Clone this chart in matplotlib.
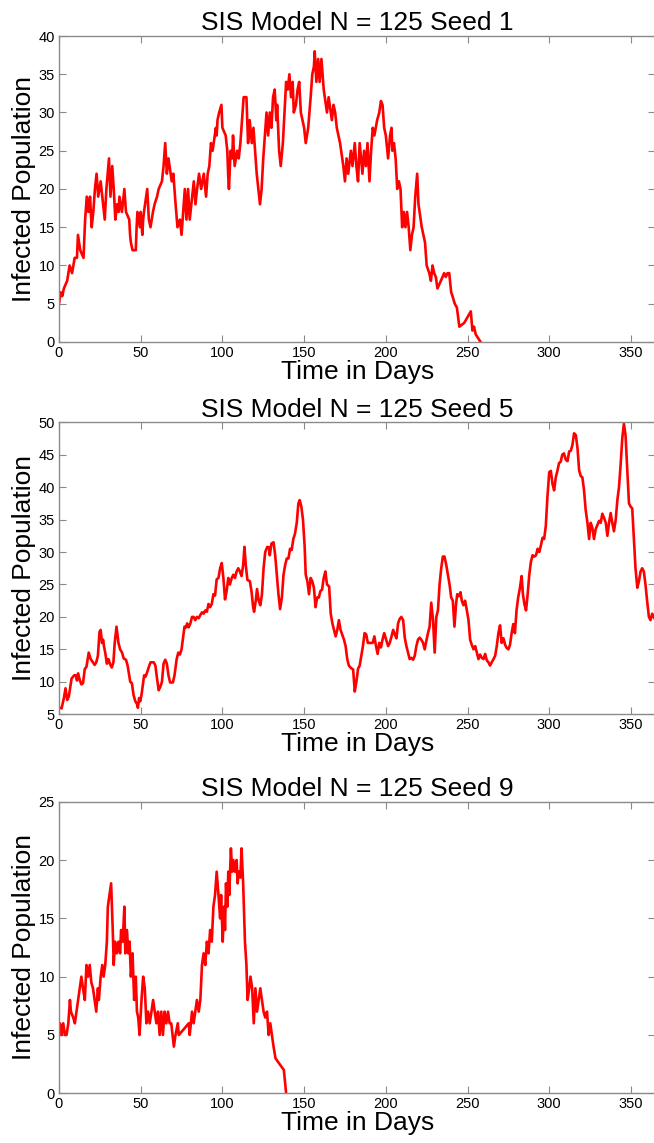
import matplotlib
matplotlib.use('Agg')
import matplotlib.pyplot as plt

plt.rcParams['font.family'] = ['Liberation Sans', 'DejaVu Sans']

# Seed 1
days_s1 = [0, 1, 2, 3, 5, 6.5, 8, 9.6, 11, 11.6, 13, 15, 16, 17, 18, 19, 20, 21, 22, 23,
           24, 25.5, 27, 28, 29, 30.6, 31.5, 32.6, 33.5, 34.5, 35.5, 36.5, 37, 38.5, 40, 41, 43, 43.5, 44, 45,
           47, 47.5, 48, 49.5, 50, 51, 51.5, 52, 54, 55, 56, 57.5, 58.5, 60, 61, 63, 64, 65, 66, 67,
           69, 70, 71, 72.5, 74, 75, 76, 77, 78, 79, 80, 81, 82.5, 83.5, 84.5, 85.7, 87, 88.6, 90, 91,
           92, 93, 94, 96, 96.5, 97, 98, 99.4, 100, 102, 103, 103.5, 104, 105, 106, 106.5, 107.5, 109, 110, 111,
           112, 113, 114.7, 115.7, 116.7, 118, 119, 120, 121, 123, 124, 125, 126, 127, 128, 129, 130, 131, 132, 133,
           133.5, 134.7, 135.7, 137, 138, 139, 140, 141, 142, 143, 143.7, 145, 146, 147, 148, 150, 151, 152.5, 154, 155,
           156, 156.5, 157.5, 158.6, 159.5, 160.6, 162, 164, 165, 167, 168, 169, 170, 172, 174, 175, 176, 177, 178.6, 179.6,
           181, 182, 183, 184, 185.7, 186.7, 187.8, 188.8, 190, 191, 192, 193, 194.7, 196, 197, 198, 199, 200, 201.4, 202.6,
           203.5, 204, 205, 206, 207, 208, 209, 210, 211, 212, 213, 214, 215, 216, 217, 218, 219.2, 220, 222, 224,
           225, 226.6, 227.6, 228.6, 229.6, 230.6, 231.6, 233.7, 235.7, 236.7, 237.8, 238.8, 240, 240.8, 242.2, 243.5, 245, 248, 252, 253,
           254, 255, 258]
vals_s1 = [5, 6.5, 6, 7, 8, 10, 9, 11, 11, 14, 12, 11, 16, 19, 17, 19, 15, 17, 20, 22,
           19, 21, 18, 16, 20, 24, 19, 23, 20, 16, 18, 17, 19, 17, 20, 17, 16, 14, 13, 12,
           12, 15, 17, 15, 17, 14, 16, 17, 20, 16, 15, 17, 18, 19, 20, 21, 23, 26, 22, 24,
           21, 22, 19, 15, 16, 14, 17, 20, 16, 20, 16, 18, 21, 18, 20, 22, 20, 22, 19, 22,
           23, 26, 25, 28, 27, 29, 30, 31, 28, 27, 25, 22, 20, 25, 24, 27, 23, 25, 24, 26,
           29, 32, 32, 26, 29, 26, 28, 25, 22, 18, 20, 24, 27, 30, 27, 30, 28, 32, 33, 29,
           31, 25, 23, 26, 30, 34, 33, 35, 32, 34, 30, 31, 33, 34, 30, 28, 26, 28, 32, 35,
           36, 38, 34, 37, 34, 37, 33, 30, 32, 29, 31, 30, 28, 26, 23, 21, 24, 22, 25, 23,
           26, 23, 21, 26, 22, 25, 23, 26, 21, 25, 28, 27, 29, 30, 31.5, 31, 28, 27, 24, 27,
           28, 25, 26, 24, 20, 21, 20, 15, 17, 15, 17, 15, 12, 14, 15, 19, 22, 18, 15, 13,
           10, 9, 8, 10, 9, 8.5, 7, 8, 9, 8.5, 9, 9, 6.5, 6, 5, 4.5, 2, 2.5, 4, 1.5,
           2, 1, 0]

# Seed 5
days_s5 = [0.5, 1.6, 3, 4, 5, 6, 7.7, 9.3, 10.3, 11, 11.7, 12.7, 13.7, 14.7, 15.8, 16.8, 18.2, 19.4, 20.8, 21.8,
           22.8, 23.8, 24.8, 25.5, 26.3, 27, 27.5, 28.3, 29.3, 30.3, 31.3, 32.3, 33.3, 34.1, 35.2, 36.4, 37.4, 38.6, 39.6, 41,
           42, 43, 43.6, 44.6, 45.6, 46.7, 47.7, 48.3, 49, 49.7, 50.5, 51.3, 52.1, 53, 54, 55, 56, 58, 59, 60,
           61, 62, 63, 64, 65, 66, 67, 68, 69.7, 70.7, 72, 73, 74, 75, 76, 76.8, 77.8, 78.4, 79.4, 80.4,
           81.4, 82.4, 83.4, 84.4, 85.5, 86.5, 87.5, 88.5, 89.5, 90.5, 91.5, 92.5, 93.5, 94.5, 95.5, 96.5, 97.6, 98.6, 99.6, 100.6,
           101.6, 102.6, 103.6, 104.6, 105.7, 106.7, 107.7, 108.7, 109.7, 110.7, 111.7, 112.7, 113.5, 114.3, 115.3, 116.8, 117.8, 118.8, 119.4, 120.4,
           121.2, 122.2, 123.2, 124.2, 125.2, 126.2, 127.5, 128.5, 129, 130, 131.3, 132.3, 133.3, 134.3, 135.3, 136.4, 137.4, 138.4, 139.4, 140.4,
           141.4, 142.4, 143.4, 144.4, 145.5, 146.5, 147.3, 148.3, 149.3, 150.3, 151, 152, 153, 154, 155, 156, 157, 158, 159, 160,
           161, 162, 163, 164, 165.3, 166.3, 167.3, 168.3, 169.3, 170.3, 171.3, 172.3, 173.3, 174.4, 175.4, 176.4, 177.4, 178.8, 180, 181,
           182, 183, 184, 185, 186, 187, 188, 189, 190, 192, 193, 194, 195, 196, 197, 198, 199, 200.4, 201.4, 202.4,
           203.5, 204.5, 205.5, 206.5, 207.5, 208.5, 209.5, 210.6, 211.6, 212.6, 213.6, 214.6, 215.6, 216.7, 217.7, 218.7, 219.7, 220.7, 221.7, 222.8,
           223.8, 224.8, 225.8, 226.8, 227.8, 228.9, 229.9, 230.9, 231.9, 232.9, 233.9, 234.9, 235.9, 237, 238, 239, 240, 241, 242, 243,
           243.7, 244.7, 245.7, 246.5, 247.5, 248.5, 249.6, 250.6, 251.6, 252.6, 253.7, 254.7, 255.7, 256.7, 257.7, 258.7, 259.8, 260.8, 261.8, 262.8,
           263.8, 264.8, 265.9, 266.9, 267.9, 268.9, 269.9, 270.9, 272, 273, 274, 275, 276, 277, 278, 279, 280, 281, 282.1, 283.1,
           283.9, 284.8, 285.8, 286.8, 287.8, 288.8, 289.8, 290.9, 291.9, 292.9, 293.9, 294.9, 295.9, 296.9, 297.9, 298.9, 300, 301, 302, 303,
           304, 305, 306, 307, 308, 309, 310.2, 311.2, 312.2, 313.2, 314.2, 315.2, 316.3, 317.3, 318.3, 319.3, 320.3, 321.3, 322.3, 323.4,
           324.4, 325.4, 326.4, 327.4, 328.4, 329.5, 330.5, 331.5, 332.5, 333.5, 334.6, 335.6, 336.6, 337.6, 338.6, 339.6, 340.7, 341.7, 342.7, 343.7,
           344.7, 345.7, 346.7, 347.8, 348.8, 349.8, 350.8, 351.8, 352.8, 353.9, 354.9, 355.9, 356.9, 357.9, 358.9, 359.9, 361, 362, 363, 365]
vals_s5 = [6, 5.9, 7.5, 9, 7.2, 7.7, 10.5, 11, 11, 10.2, 11.3, 10.3, 9.6, 9.8, 12, 12.3, 14.5, 13.5, 13, 12.6,
           13, 14, 17.7, 18, 16, 16.5, 15.5, 14.5, 12.8, 13.5, 12.7, 12.2, 13, 16, 18.5, 16, 15, 14.5, 13.6, 13.4,
           12.5, 11, 10, 9.8, 8, 7, 6.6, 6, 7.5, 7, 8, 9.5, 11, 10.8, 11.5, 12.3, 13, 13, 12.5, 10.5,
           8.7, 9.2, 10, 12.8, 13.4, 12.8, 11, 9.9, 9.9, 11, 13.5, 14.5, 14.2, 15, 17, 18.5, 18.4, 19, 18.4, 19,
           20, 20, 19.5, 20, 19.8, 20.3, 20.7, 20.5, 21, 20.8, 22, 21.5, 22, 23.5, 23.3, 25.8, 26, 27.5, 28.3, 26,
           22.7, 24, 26, 25, 26, 26.5, 26, 27, 27.5, 27, 26.3, 28, 30.8, 28, 25.7, 25.5, 24, 21.5, 20.8, 22.5,
           24.3, 22.5, 21.8, 23.5, 27.5, 30, 30.8, 30.7, 29.5, 31.3, 31.5, 29.5, 26.5, 23.5, 21.2, 23, 26.5, 28, 29, 29,
           30.5, 30.3, 32, 32.8, 34.5, 37.5, 38, 37, 35, 31, 26.5, 25.5, 23.5, 26, 25.5, 24.5, 21.5, 23, 23, 24,
           24.2, 26, 27, 25, 24.7, 20.5, 19, 18, 17, 18, 19.5, 18, 17.3, 16.5, 15.5, 13.5, 12.5, 12.1, 11.9, 8.5,
           10, 12, 12.5, 14, 15.5, 17.5, 17.3, 16, 16, 16, 17, 15.5, 14.3, 16, 15.3, 16.5, 17.5, 16.3, 15.5, 16,
           17, 18, 17.3, 16.7, 19, 19.7, 20, 19.5, 16.8, 15.5, 14.5, 13.5, 13.7, 13.4, 14, 15.5, 16.5, 16.8, 16.5, 16,
           15, 16.3, 17.5, 18.5, 22.2, 19.5, 14.5, 20, 21, 25, 27.5, 29.3, 29.3, 28, 26.5, 25, 23, 22.5, 18.5, 22,
           23.5, 23.2, 23.8, 22.5, 21.8, 22.5, 21, 19.5, 16.5, 15.7, 15, 15.5, 14.5, 13.5, 14.2, 13.7, 13.5, 14.3, 13.3, 13,
           12.5, 13, 13.5, 14, 15.5, 17.5, 18.7, 16, 16.7, 15.7, 15.2, 15, 15.7, 17.5, 18.9, 17.5, 21, 23, 24.5, 26.3,
           23.5, 22, 21, 23.5, 26.5, 28.5, 29.5, 29.3, 29.5, 30.5, 30, 31, 32.2, 32, 34, 38.5, 42.3, 42.5, 40.5, 39.5,
           41.5, 42.5, 43.7, 43.9, 45, 45.2, 44.2, 44, 45.5, 45.6, 46.5, 48.3, 48, 46, 42.6, 41.7, 41.5, 39.5, 36.5, 34.5,
           32, 34.5, 33.7, 32, 33.5, 34.2, 34.8, 34.5, 35.9, 35.3, 34.5, 32.5, 34.5, 36, 34.5, 33.2, 35, 38, 40, 43.5,
           47.5, 49.8, 48, 42.5, 37.5, 37, 36.7, 32, 27.5, 24.5, 25.5, 27, 27.5, 27, 25, 22.5, 20, 19.5, 20.5, 19.5]

# Seed 9
days_s9 = [0, 0.6, 1.6, 2.6, 3.6, 4.6, 5.7, 6.7, 7.3, 8.7, 9.7, 10.7, 11.7, 12.7, 13.7, 14.7, 15.8, 16.8, 17.8, 18.8,
           19.8, 20.8, 21.8, 22.8, 23.8, 24.4, 25.5, 26.5, 27.3, 28.3, 29.3, 29.9, 30.9, 31.9, 32.9, 33.5, 34.3, 35.4, 36.4, 37.4,
           38, 39, 40, 40.6, 41.6, 42.4, 43.2, 44, 45, 46, 47, 47.7, 48.5, 49.3, 50.5, 51.5, 52.5, 53.5, 54.5, 55.5,
           56.6, 57.6, 58.6, 59.6, 60.6, 61.6, 62.6, 63.6, 64.6, 65.7, 66.7, 67.7, 68.7, 70.3, 71.3, 72.7, 73.3, 76.4, 79.4, 80,
           81.4, 82.4, 83.4, 84.4, 85.5, 86.5, 87.5, 88.5, 89.5, 90.5, 91.5, 92.5, 93.5, 94.5, 95.5, 96.5, 97.6, 98.6, 99.2, 100.2,
           101, 101.6, 102.2, 103, 103.6, 104.2, 105.2, 106, 106.7, 107.7, 108.7, 109.3, 110, 111, 111.7, 112.7, 113.8, 114.7, 115.4, 116.4,
           117.2, 118.2, 119.2, 120.2, 121.2, 122.2, 123.2, 124.2, 125.2, 126.2, 127.3, 128.3, 129.3, 130.3, 131.3, 132.5, 135, 137.6, 139]
vals_s9 = [5, 6, 5, 6, 5, 5, 6, 8, 7, 6.5, 6, 7, 8, 9, 10, 9, 8, 11, 10, 11,
           9.5, 9, 8, 7, 9, 8, 10, 11, 10, 11, 13, 16, 17, 18, 14, 11, 13, 12, 13, 12,
           14, 13, 16, 12, 14, 12, 13, 10, 12, 8, 10, 7, 6.5, 5, 8, 10, 9, 6, 7, 6,
           7, 8, 7, 6, 7, 5, 7, 5, 7, 6, 7, 6, 6, 4, 5, 6, 5, 5.5, 6, 5,
           7, 6, 7, 8, 7, 8, 11, 12, 11, 13, 12, 14, 13, 16, 17, 19, 17, 15, 17, 13,
           16, 14, 18, 16, 19, 17, 21, 19, 20, 19, 20, 18, 19, 18.5, 21, 18, 13, 11, 8, 9,
           10, 9, 6, 9, 7, 8, 9, 8, 7, 6.5, 7, 5, 6, 5, 4, 3, 2.5, 2, 0]

titles = ['SIS Model N = 125 Seed 1', 'SIS Model N = 125 Seed 5', 'SIS Model N = 125 Seed 9']
ylims = [(0, 40), (5, 50), (0, 25)]
series = [(days_s1, vals_s1), (days_s5, vals_s5), (days_s9, vals_s9)]

fig = plt.figure(figsize=(6.54, 11.43), dpi=100)
boxes = [[0.0902, 0.7008, 0.912, 0.2677],
         [0.0902, 0.3751, 0.912, 0.2555],
         [0.0902, 0.0435, 0.912, 0.2551]]
grey = '#8a8a8a'

for box, (d, v), title, yl in zip(boxes, series, titles, ylims):
    assert len(d) == len(v)
    ax = fig.add_axes(box)
    ax.plot(d, v, color='red', linewidth=1.9)
    ax.set_xlim(0, 365)
    ax.set_ylim(*yl)
    ax.set_xticks(range(0, 351, 50))
    ax.set_yticks(range(yl[0], yl[1] + 1, 5))
    ax.tick_params(direction='in', length=5, width=0.8, color=grey, labelsize=10.5,
                   top=True, right=True, pad=3)
    for sp in ax.spines.values():
        sp.set_color(grey)
        sp.set_linewidth(1.0)
    ax.set_title(title, fontsize=19, pad=4)
    ax.set_xlabel('Time in Days', fontsize=19, labelpad=0)
    ax.set_ylabel('Infected Population', fontsize=19, labelpad=2)

fig.savefig('out.png', dpi=100)
